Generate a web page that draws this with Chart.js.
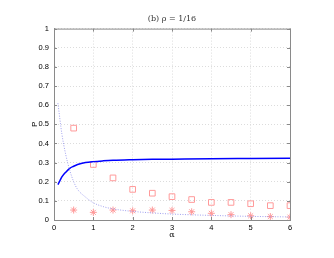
<!DOCTYPE html>
<html><head><meta charset="utf-8">
<script src="https://cdn.jsdelivr.net/npm/chart.js@4/dist/chart.umd.min.js"></script>
<style>html,body{margin:0;padding:0;background:#fff}#wrap{width:334px;height:258px}</style>
</head><body><div id="wrap"><canvas id="c" width="334" height="258"></canvas></div>
<script>
const titleText = "(b) \u03C1 = 1/16";
const xTicks = [0,1,2,3,4,5,6];
const yTicks = [0,0.1,0.2,0.3,0.4,0.5,0.6,0.7,0.8,0.9,1];
const curveAlpha = [0.1,0.15,0.2,0.3,0.4,0.5,0.6,0.8,1,1.25,1.5,2,2.5,3,4,5,6];
const curveSolid = [0.185,0.205,0.225,0.25,0.27,0.281,0.29,0.3,0.305,0.309,0.312,0.315,0.317,0.318,0.32,0.321,0.322];
const dotAlpha = [0.1,0.2,0.3,0.4,0.5,0.6,0.8,1,1.25,1.5,2,2.5,3,4,5,6];
const dotValues = [0.61,0.45,0.34,0.26,0.2,0.16,0.12,0.09,0.07,0.058,0.045,0.037,0.031,0.024,0.019,0.016];
const markAlpha = [0.5,1,1.5,2,2.5,3,3.5,4,4.5,5,5.5,6];
const squares = [0.48,0.29,0.22,0.16,0.14,0.122,0.107,0.092,0.092,0.085,0.075,0.075];
const stars = [0.052,0.04,0.052,0.048,0.052,0.05,0.043,0.035,0.028,0.022,0.018,0.015];

const pts = (xs, ys) => xs.map((x,i)=>({x, y: ys[i]}));
const boxPlugin = {
  id:'box',
  afterDraw(chart){
    const {ctx, chartArea:a, scales} = chart;
    ctx.save();
    ctx.strokeStyle = '#8a8a8a'; ctx.lineWidth = 1;
    ctx.strokeRect(a.left+0.5, a.top+0.5, a.right-a.left, a.bottom-a.top);
    ctx.beginPath();
    scales.x.ticks.forEach(t=>{
      const px = Math.round(scales.x.getPixelForValue(t.value))+0.5;
      ctx.moveTo(px, a.bottom); ctx.lineTo(px, a.bottom-3);
      ctx.moveTo(px, a.top); ctx.lineTo(px, a.top+3);
    });
    scales.y.ticks.forEach(t=>{
      const py = Math.round(scales.y.getPixelForValue(t.value))+0.5;
      ctx.moveTo(a.left, py); ctx.lineTo(a.left+3, py);
      ctx.moveTo(a.right, py); ctx.lineTo(a.right-3, py);
    });
    ctx.stroke();
    ctx.restore();
  }
};
new Chart(document.getElementById('c'), {
  type:'scatter',
  data:{datasets:[
    {data:pts(dotAlpha,dotValues), showLine:true, borderColor:'#a0a0ee', borderWidth:1, borderDash:[1,1.5], pointRadius:0, cubicInterpolationMode:'monotone'},
    {data:pts(curveAlpha,curveSolid), showLine:true, borderColor:'#0000ff', borderWidth:1.5, pointRadius:0, cubicInterpolationMode:'monotone'},
    {data:pts(markAlpha,squares), pointStyle:'rect', pointRadius:4, borderColor:'#ff9a9a', backgroundColor:'rgba(0,0,0,0)', borderWidth:1},
    {data:pts(markAlpha,stars), pointStyle:'star', pointRadius:3.5, borderColor:'#ff9a9a', backgroundColor:'rgba(0,0,0,0)', borderWidth:1},
    {data:pts(markAlpha,stars), pointStyle:'circle', pointRadius:0.9, borderColor:'#e02020', backgroundColor:'#e02020', borderWidth:0}
  ]},
  options:{
    responsive:false, animation:false, devicePixelRatio:1,
    layout:{padding:{left:0,right:44,top:0,bottom:0}},
    plugins:{legend:{display:false}, tooltip:{enabled:false},
      title:{display:true, text:titleText, fullSize:false, color:'#333', font:{family:'DejaVu Serif', size:8, weight:'normal'}, padding:{top:14,bottom:5}}},
    scales:{
      x:{type:'linear', min:0, max:6,
        afterFit(s){s.height=38;},
        afterBuildTicks(s){s.ticks = xTicks.map(v=>({value:v}));},
        ticks:{color:'#000', font:{family:'Liberation Sans', size:7.5}, padding:3, maxRotation:0, callback:v=>String(+v.toFixed(2))},
        grid:{color:'#dcdcdc', drawTicks:false},
        border:{color:'#8a8a8a', dash:[1,2]},
        title:{display:true, text:'\u03B1', color:'#000', font:{family:'DejaVu Serif', size:8}, padding:{top:0,bottom:18}}},
      y:{type:'linear', min:0, max:1,
        afterFit(s){s.width=54;},
        afterBuildTicks(s){s.ticks = yTicks.map(v=>({value:v}));},
        ticks:{color:'#000', font:{family:'Liberation Sans', size:7.5}, padding:5, callback:v=>String(+v.toFixed(2))},
        grid:{color:'#dcdcdc', drawTicks:false},
        border:{color:'#8a8a8a', dash:[1,2]},
        title:{display:true, text:'P', color:'#000', font:{family:'Liberation Sans', size:8}, padding:{top:30,bottom:0}}}
    }
  },
  plugins:[boxPlugin]
});
</script></body></html>
